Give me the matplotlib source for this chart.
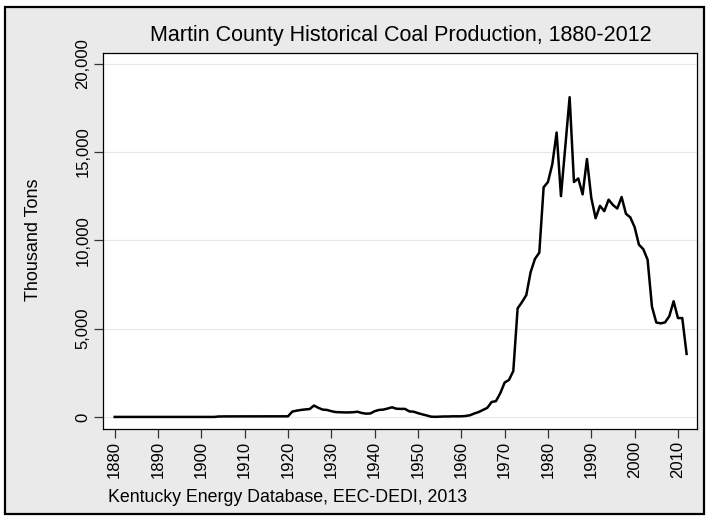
import numpy as np
import matplotlib
matplotlib.use('Agg')
import matplotlib.pyplot as plt
from matplotlib.patches import Rectangle

plt.rcParams['font.family'] = ['Liberation Sans', 'DejaVu Sans']

# --------------------------
# DATA (thousand tons)
# --------------------------
years = np.arange(1880, 2013)

production = [
    # 1880-1889
    5, 5, 5, 5, 5, 5, 5, 5, 5, 5,
    # 1890-1899
    5, 5, 5, 5, 5, 5, 5, 5, 5, 5,
    # 1900-1909
    5, 5, 5, 5, 30, 35, 35, 35, 35, 35,
    # 1910-1919
    35, 35, 35, 35, 35, 35, 35, 35, 35, 35,
    # 1920-1929
    40, 310, 360, 400, 430, 450, 650, 520, 420, 400,
    # 1930-1939
    330, 280, 270, 260, 260, 270, 300, 230, 190, 200,
    # 1940-1949
    330, 400, 420, 480, 550, 470, 460, 460, 320, 300,
    # 1950-1959
    220, 150, 90, 20, 10, 20, 30, 30, 40, 40,
    # 1960-1969
    40, 60, 100, 200, 280, 400, 520, 850, 900, 1350,
    # 1970-1979
    1950, 2100, 2600, 6150, 6500, 6900, 8200, 8950, 9300, 13000,
    # 1980-1989
    13300, 14300, 16100, 12500, 15300, 18100, 13300, 13500, 12600, 14600,
    # 1990-1999
    12400, 11250, 11950, 11650, 12300, 12000, 11800, 12450, 11500, 11300,
    # 2000-2009
    10750, 9750, 9500, 8900, 6250, 5350, 5300, 5350, 5700, 6550,
    # 2010-2012
    5600, 5600, 3570,
]

xticks = list(range(1880, 2011, 10))
yticks = [0, 5000, 10000, 15000, 20000]
ytick_labels = ['0', '5,000', '10,000', '15,000', '20,000']

title = 'Martin County Historical Coal Production, 1880-2012'
ylabel = 'Thousand Tons'
caption = 'Kentucky Energy Database, EEC-DEDI, 2013'

# --------------------------
# PLOT
# --------------------------
W, H = 709, 520
fig = plt.figure(figsize=(W / 100, H / 100), dpi=100)
fig.patch.set_facecolor('white')

# grey background with black frame (behind the axes)
fig.patches.append(Rectangle((5 / W, 1 - 514 / H), 699 / W, 507 / H,
                             transform=fig.transFigure, facecolor='#eaeaea',
                             edgecolor='black', linewidth=1.6, zorder=-5))

ax = fig.add_axes([103 / W, 1 - 428.5 / H, 594 / W, 375.5 / H])
ax.set_facecolor('white')

ax.plot(years, production, color='black', linewidth=1.8, zorder=3)

ax.set_xlim(1877.3, 2014.4)
ax.set_ylim(-650, 20600)

ax.set_xticks(xticks)
ax.set_xticklabels([str(y) for y in xticks], rotation=90)
ax.set_yticks(yticks)
ax.set_yticklabels(ytick_labels, rotation=90, va='center')

ax.tick_params(axis='both', direction='out', length=6.5, width=0.9,
               color='#333333', labelsize=12, pad=2.5)

for y in yticks:
    ax.axhline(y, color='#e4eaea', linewidth=0.9, zorder=1)

for s in ax.spines.values():
    s.set_linewidth(0.9)
    s.set_color('black')

fig.text(401 / W, 1 - 36 / H, title, ha='center', va='center', fontsize=15.5)
fig.text(33 / W, 1 - 240 / H, ylabel, ha='center', va='center',
         rotation=90, fontsize=13)
fig.text(108 / W, 1 - 498 / H, caption, ha='left', va='center', fontsize=12.8)

plt.savefig('out.png', dpi=100, facecolor=fig.get_facecolor())
